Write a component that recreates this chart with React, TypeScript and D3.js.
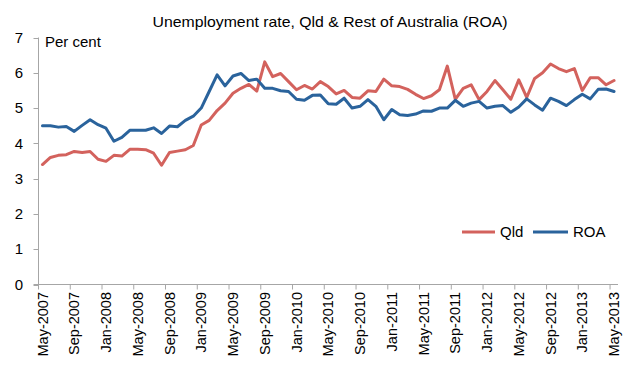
import React from "react";
import * as d3 from "d3";

const title = "Unemployment rate, Qld & Rest of Australia (ROA)";
const yAxisLabel = "Per cent";
const seriesNames = ["Qld", "ROA"];
const startMonth = new Date(2007, 4, 1); // May 2007
const yTicks = [0, 1, 2, 3, 4, 5, 6, 7];
const tickLabels = [
  "May-2007", "Sep-2007", "Jan-2008", "May-2008", "Sep-2008", "Jan-2009", "May-2009",
  "Sep-2009", "Jan-2010", "May-2010", "Sep-2010", "Jan-2011", "May-2011", "Sep-2011",
  "Jan-2012", "May-2012", "Sep-2012", "Jan-2013", "May-2013",
];

const qld = [
  3.40, 3.60, 3.66, 3.68, 3.77, 3.74, 3.77, 3.55, 3.49, 3.66, 3.64, 3.83,
  3.83, 3.82, 3.72, 3.38, 3.74, 3.78, 3.82, 3.94, 4.52, 4.65, 4.93, 5.14,
  5.42, 5.56, 5.67, 5.48, 6.31, 5.89, 5.98, 5.75, 5.52, 5.64, 5.54, 5.75,
  5.61, 5.40, 5.50, 5.30, 5.28, 5.49, 5.47, 5.82, 5.63, 5.61, 5.53, 5.39,
  5.27, 5.35, 5.52, 6.19, 5.25, 5.56, 5.66, 5.24, 5.47, 5.78, 5.52, 5.25,
  5.80, 5.30, 5.84, 6.00, 6.25, 6.12, 6.03, 6.12, 5.50, 5.86, 5.86, 5.66,
  5.78,
];

const roa = [
  4.50, 4.50, 4.46, 4.48, 4.34, 4.51, 4.67, 4.53, 4.43, 4.06, 4.17, 4.37,
  4.37, 4.37, 4.44, 4.28, 4.49, 4.47, 4.65, 4.77, 5.00, 5.47, 5.94, 5.63,
  5.91, 5.98, 5.78, 5.82, 5.56, 5.56, 5.49, 5.47, 5.25, 5.22, 5.36, 5.37,
  5.12, 5.11, 5.28, 5.00, 5.05, 5.24, 5.05, 4.67, 4.96, 4.81, 4.79, 4.83,
  4.92, 4.91, 5.00, 5.00, 5.22, 5.05, 5.14, 5.19, 5.00, 5.05, 5.07, 4.88,
  5.03, 5.26, 5.09, 4.94, 5.28, 5.19, 5.07, 5.24, 5.39, 5.26, 5.53, 5.54,
  5.47,
];

const colors = ["#D3625D", "#2A639C"];
const FONT = "'Liberation Sans', Arial, sans-serif";

export default function App() {
  const W = 639;
  const H = 384;
  const months = d3.timeMonth.range(startMonth, d3.timeMonth.offset(startMonth, qld.length));
  const x = d3
    .scaleBand<number>()
    .domain(months.map((_, i) => i))
    .range([38.5, 618])
    .paddingInner(0)
    .paddingOuter(0);
  const bw = x.bandwidth();
  const y = d3.scaleLinear().domain([0, 7]).range([284.5, 37.5]);
  const cx = (i: number) => (x(i) as number) + bw / 2;

  const line = d3
    .line<number>()
    .x((_, i) => cx(i))
    .y((d) => y(d));

  const tickIdx = months.map((_, i) => i).filter((i) => i % 4 === 0);
  const axisColor = "#A6A6A6";
  const series = [qld, roa];

  return (
    <svg width={W} height={H} style={{ display: "block", position: "absolute", left: 0, top: 0 }} fontFamily={FONT}>
      <rect x={0} y={0} width={W} height={H} fill="#fff" />
      <text x={330} y={27} textAnchor="middle" fontSize={15} fill="#000" textLength={355} lengthAdjust="spacingAndGlyphs">
        {title}
      </text>
      {/* y axis */}
      <line x1={38.5} x2={38.5} y1={y(7)} y2={y(0)} stroke={axisColor} strokeWidth={1} />
      {yTicks.map((t) => (
        <g key={t}>
          <line x1={33.5} x2={38.5} y1={Math.round(y(t)) + 0.5} y2={Math.round(y(t)) + 0.5} stroke={axisColor} />
          <text x={23} y={y(t)} dy="0.35em" textAnchor="end" fontSize={15} fill="#000">
            {t}
          </text>
        </g>
      ))}
      <text x={45} y={47} fontSize={15} fill="#000">
        {yAxisLabel}
      </text>
      {/* x axis */}
      <line x1={33.5} x2={618} y1={284.5} y2={284.5} stroke={axisColor} strokeWidth={1} />
      {tickIdx.map((i, k) => (
        <g key={i}>
          <line x1={(x(i) as number)} x2={(x(i) as number)} y1={284.5} y2={289.5} stroke={axisColor} />
          <text
            transform={`translate(${cx(i)},292) rotate(-90)`}
            textAnchor="end"
            dy="0.35em"
            fontSize={14.5}
            fill="#000"
          >
            {tickLabels[k]}
          </text>
        </g>
      ))}
      {/* lines */}
      {series.map((s, k) => (
        <path key={k} d={line(s) || ""} fill="none" stroke={colors[k]} strokeWidth={3} strokeLinejoin="round" strokeLinecap="round" />
      ))}
      {/* legend */}
      <g>
        <line x1={462} x2={495} y1={232} y2={232} stroke={colors[0]} strokeWidth={3} />
        <text x={500} y={232} dy="0.35em" fontSize={15} fill="#000">{seriesNames[0]}</text>
        <line x1={533} x2={568} y1={232} y2={232} stroke={colors[1]} strokeWidth={3} />
        <text x={573} y={232} dy="0.35em" fontSize={15} fill="#000">{seriesNames[1]}</text>
      </g>
    </svg>
  );
}
